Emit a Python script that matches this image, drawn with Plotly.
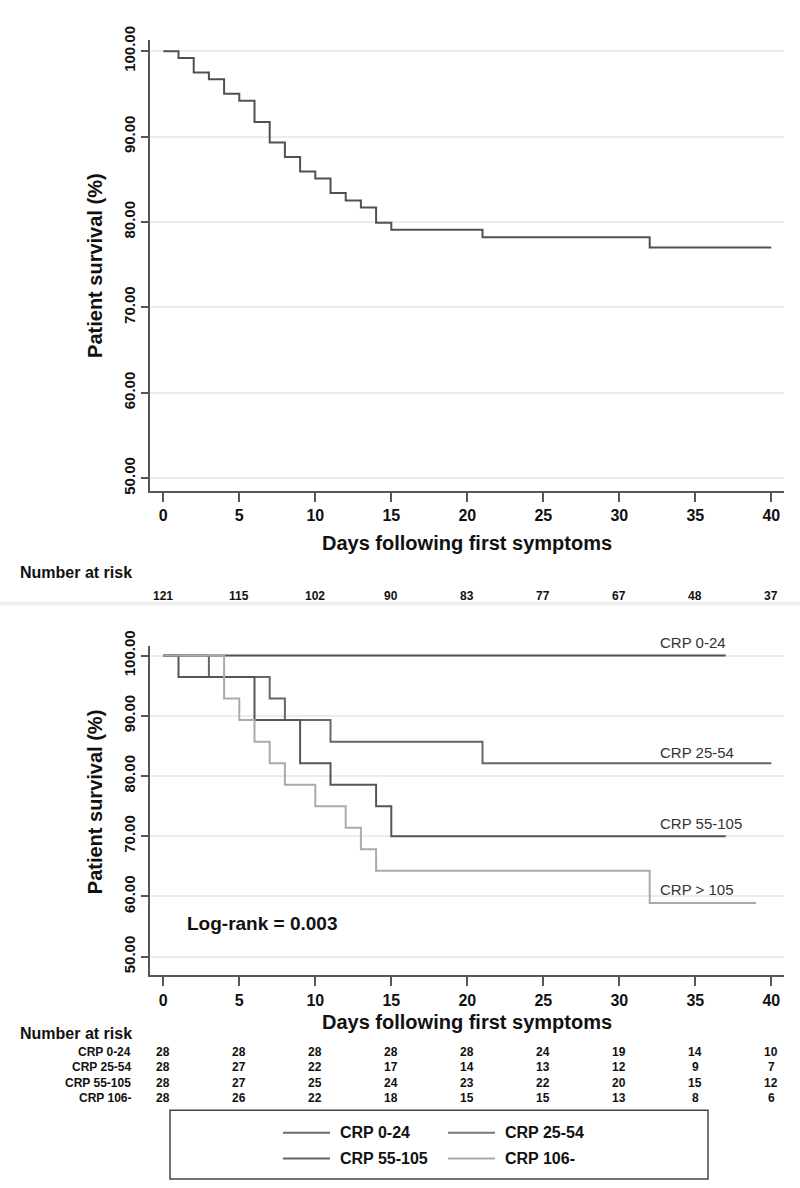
import plotly.graph_objects as go

# ---------------- data ----------------
# Top panel: whole cohort
all_days = [0, 1, 2, 3, 4, 5, 6, 7, 8, 9, 10, 11, 12, 13, 14, 15, 21, 32, 40]
all_surv = [100, 99.2, 97.5, 96.7, 95.0, 94.2, 91.7, 89.3, 87.6, 85.9, 85.1, 83.4, 82.5,
            81.7, 79.9, 79.1, 78.2, 77.0, 77.0]
risk_ticks = [0, 5, 10, 15, 20, 25, 30, 35, 40]
all_risk = [121, 115, 102, 90, 83, 77, 67, 48, 37]

# Bottom panel: CRP groups
crp1_days = [0, 37]
crp1_surv = [100, 100]
crp2_days = [0, 3, 7, 8, 11, 21, 40]
crp2_surv = [100, 96.43, 92.86, 89.29, 85.71, 82.14, 82.14]
crp3_days = [0, 1, 6, 9, 11, 14, 15, 37]
crp3_surv = [100, 96.43, 89.29, 82.14, 78.57, 75.0, 70.0, 70.0]
crp4_days = [0, 4, 5, 6, 7, 8, 10, 12, 13, 14, 32, 39]
crp4_surv = [100, 92.86, 89.29, 85.71, 82.14, 78.57, 75.0, 71.43, 67.86, 64.29, 58.93, 58.93]

group_names = ["CRP 0-24", "CRP 25-54", "CRP 55-105", "CRP 106-"]
curve_labels = ["CRP 0-24", "CRP 25-54", "CRP 55-105", "CRP > 105"]
group_risk = [
    [28, 28, 28, 28, 28, 24, 19, 14, 10],
    [28, 27, 22, 17, 14, 13, 12, 9, 7],
    [28, 27, 25, 24, 23, 22, 20, 15, 12],
    [28, 26, 22, 18, 15, 15, 13, 8, 6],
]
group_colors = ["#505050", "#666666", "#555555", "#aaaaaa"]
legend_colors = ["#6a6a6a", "#777777", "#666666", "#aaaaaa"]

y_ticks = [50, 60, 70, 80, 90, 100]

# ---------------- layout helpers ----------------
W, H = 800, 1188
def px(x):
    return x / W
def py(y):
    return 1 - y / H

NARROW = "Liberation Sans Narrow, Noto Sans Condensed, Liberation Sans, Arial, sans-serif"
ARIAL = "Liberation Sans, Arial, sans-serif"
AX = "#555555"

fig = go.Figure()

fig.add_trace(go.Scatter(x=all_days, y=all_surv, mode="lines", line_shape="hv",
                         line=dict(color="#505050", width=2), showlegend=False,
                         xaxis="x", yaxis="y"))

for d, s, c, n in zip([crp1_days, crp2_days, crp3_days, crp4_days],
                      [crp1_surv, crp2_surv, crp3_surv, crp4_surv],
                      group_colors, group_names):
    fig.add_trace(go.Scatter(x=d, y=s, mode="lines", line_shape="hv", name=n,
                             line=dict(color=c, width=2), showlegend=False,
                             xaxis="x2", yaxis="y2"))

xdom = [px(150), px(784)]
xrange_ = [(150 - 163.3) / 15.2, (784 - 163.3) / 15.2]

axis_common = dict(showline=True, linecolor=AX, linewidth=2, ticks="outside",
                   tickcolor=AX, tickwidth=2, zeroline=False)
xtickfont = dict(family=NARROW, size=16, color="#111111", weight=700)
ytickfont = dict(family=NARROW, size=15, color="#111111", weight=700)

fig.update_layout(
    width=W, height=H, margin=dict(l=0, r=0, t=0, b=0),
    plot_bgcolor="white", paper_bgcolor="white",
    xaxis=dict(domain=xdom, range=xrange_, tickvals=risk_ticks, ticklen=9,
               showgrid=False, tickfont=xtickfont, anchor="y", **axis_common),
    yaxis=dict(domain=[py(483.3), py(25)], range=[48.55, 101.35], tickvals=y_ticks,
               tickformat=".2f", tickangle=-90, ticklen=7, showgrid=True,
               gridcolor="#ececec", gridwidth=1.5, tickfont=ytickfont, anchor="x",
               **axis_common),
    xaxis2=dict(domain=xdom, range=xrange_, tickvals=risk_ticks, ticklen=9,
                showgrid=False, tickfont=xtickfont, anchor="y2", **axis_common),
    yaxis2=dict(domain=[py(976), py(641)], range=[100 - (976 - 651) / 6.12, 100 + 10 / 6.12],
                tickvals=y_ticks, tickformat=".2f", tickangle=-90, ticklen=7,
                showgrid=True, gridcolor="#ececec", gridwidth=1.5, tickfont=ytickfont,
                anchor="x2", **axis_common),
)

ann = []
def text(x, y, t, size, font=NARROW, bold=True, xanchor="center", xref="paper",
         yref="paper", angle=0, color="#111111"):
    ann.append(dict(x=x, y=y, xref=xref, yref=yref, text=t, showarrow=False,
                    xanchor=xanchor, yanchor="middle", textangle=angle,
                    font=dict(family=font, size=size, color=color,
                              weight=700 if bold else 400)))

# axis titles
text(px(467), py(537), "Days following first symptoms", 20)
text(px(467), py(1023), "Days following first symptoms", 20)
text(px(95), py(255), "Patient survival (%)", 20, angle=-90)
text(px(95), py(800), "Patient survival (%)", 20, angle=-90)

# number at risk
text(px(18), py(567), "Number at risk", 16, xanchor="left")
text(px(18), py(1035), "Number at risk", 16, xanchor="left")
for t, v in zip(risk_ticks, all_risk):
    text(t, py(590), str(v), 12, xref="x")
row_y = [1054, 1069.5, 1085, 1100.5]
for gi, name in enumerate(group_names):
    text(px(133), py(row_y[gi]), name, 12, xanchor="right")
    for t, v in zip(risk_ticks, group_risk[gi]):
        text(t, py(row_y[gi]), str(v), 12, xref="x2")

# curve labels
label_y = [638, 749, 822, 889]
for lab, yy in zip(curve_labels, label_y):
    text((658 - 163.3) / 15.2, py(yy), lab, 15, font=ARIAL, bold=False,
         xanchor="left", xref="x2", color="#333333")

# log-rank
text((185 - 163.3) / 15.2, py(923), "Log-rank = 0.003", 19, font=ARIAL,
     xanchor="left", xref="x2")

# legend box
shapes = []
shapes.append(dict(type="rect", xref="paper", yref="paper", x0=px(170), x1=px(708),
                   y0=py(1183), y1=py(1113), line=dict(color="#444444", width=1.5)))
leg_pos = [(283, 1136), (448, 1136), (283, 1162), (448, 1162)]
for (lx, ly), name, col in zip(leg_pos, group_names, legend_colors):
    shapes.append(dict(type="line", xref="paper", yref="paper", x0=px(lx), x1=px(lx + 47),
                       y0=py(ly), y1=py(ly), line=dict(color=col, width=2)))
    text(px(lx + 55), py(ly), name, 16, xanchor="left")

# panel separator
shapes.append(dict(type="rect", xref="paper", yref="paper", x0=0, x1=1,
                   y0=py(600), y1=py(596), line=dict(width=0), fillcolor="#eeeeee"))

fig.update_layout(annotations=ann, shapes=shapes)
fig.write_html("out.html", config={"displayModeBar": False},
               post_script="document.body.style.margin='0';document.body.style.overflow='hidden';")
